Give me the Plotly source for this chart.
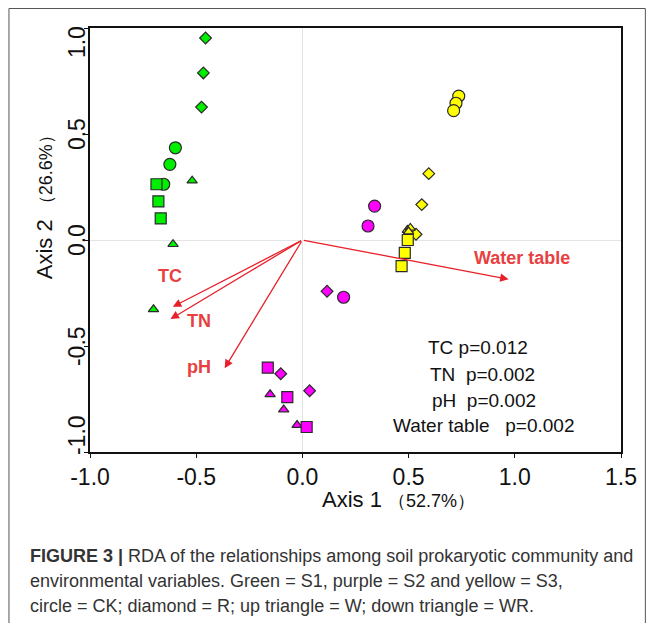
import plotly.graph_objects as go

# ---- data (RDA site scores) ----
green_circle_x = [-0.598, -0.624, -0.653]
green_circle_y = [0.435, 0.357, 0.263]
green_diamond_x = [-0.456, -0.466, -0.475]
green_diamond_y = [0.953, 0.788, 0.627]
green_tri_x = [-0.519, -0.609, -0.701]
green_tri_y = [0.280, -0.020, -0.327]
green_square_x = [-0.687, -0.678, -0.667]
green_square_y = [0.263, 0.182, 0.102]

purple_circle_x = [0.340, 0.309, 0.194]
purple_circle_y = [0.160, 0.066, -0.270]
purple_diamond_x = [0.116, -0.102, 0.034]
purple_diamond_y = [-0.242, -0.631, -0.711]
purple_tri_x = [-0.152, -0.088, -0.025]
purple_tri_y = [-0.728, -0.800, -0.873]
purple_square_x = [-0.163, -0.071, 0.020]
purple_square_y = [-0.602, -0.741, -0.882]

yellow_circle_x = [0.736, 0.723, 0.712]
yellow_circle_y = [0.679, 0.645, 0.610]
yellow_diamond_x = [0.595, 0.562, 0.535]
yellow_diamond_y = [0.313, 0.167, 0.027]
yellow_tri_x = [0.494, 0.508, 0.500]
yellow_tri_y = [0.047, 0.057, 0.040]
yellow_square_x = [0.496, 0.482, 0.467]
yellow_square_y = [0.000, -0.061, -0.123]

# environmental vectors
env_names = ["TC", "TN", "pH", "Water table"]
env_x = [-0.610, -0.621, -0.366, 0.971]
env_y = [-0.315, -0.373, -0.605, -0.185]
env_label_x = [-0.625, -0.488, -0.485, 1.035]
env_label_y = [-0.172, -0.382, -0.597, -0.087]

stats_lines = ["TC p=0.012", "TN  p=0.002", "pH  p=0.002", "Water table   p=0.002"]
stats_x = [0.825, 0.846, 0.855, 0.853]
stats_y = [-0.505, -0.636, -0.755, -0.873]

x_ticks = [-1.0, -0.5, 0.0, 0.5, 1.0, 1.5]
x_ticktext = ["-1.0", "-0.5", "0.0", "0.5", "1.0", "1.5"]
y_ticks = [-1.0, -0.5, 0.0, 0.5, 1.0]
y_ticktext = ["-1.0", "-0.5", "0.0", "0.5", "1.0"]

GREEN = "#00ee00"
PURPLE = "#ff00ff"
YELLOW = "#ffff00"
EDGE = "#2a2a2a"
RED = "#e8202a"
RED_TXT = "#e8403f"
FONT = "Liberation Sans, Arial"

# figure sits inside the page body (8px default margin)
W, H = 641, 615
PL, PR, PT, PB = 82, 25, 20, 171

fig = go.Figure()

groups = [
    (GREEN, green_circle_x, green_circle_y, green_diamond_x, green_diamond_y,
     green_tri_x, green_tri_y, green_square_x, green_square_y),
    (PURPLE, purple_circle_x, purple_circle_y, purple_diamond_x, purple_diamond_y,
     purple_tri_x, purple_tri_y, purple_square_x, purple_square_y),
    (YELLOW, yellow_circle_x, yellow_circle_y, yellow_diamond_x, yellow_diamond_y,
     yellow_tri_x, yellow_tri_y, yellow_square_x, yellow_square_y),
]
for col, cx, cy, dx, dy, tx, ty, sx, sy in groups:
    for xs, ys, sym, size in [(cx, cy, "circle", 12), (dx, dy, "diamond", 9),
                              (tx, ty, "triangle-up", 9), (sx, sy, "square", 11)]:
        fig.add_trace(go.Scatter(
            x=xs, y=ys, mode="markers", showlegend=False,
            marker=dict(symbol=sym, size=size, color=col,
                        line=dict(color=EDGE, width=1.2))))

annotations = []
for i, name in enumerate(env_names):
    annotations.append(dict(
        x=env_x[i], y=env_y[i], ax=0, ay=0, xref="x", yref="y", axref="x", ayref="y",
        text="", showarrow=True, arrowhead=2, arrowsize=1.3, arrowwidth=1.3,
        arrowcolor=RED, standoff=0))
    annotations.append(dict(
        x=env_label_x[i], y=env_label_y[i], xref="x", yref="y", text="<b>%s</b>" % name,
        showarrow=False, font=dict(family=FONT, size=18, color=RED_TXT)))

for i, line in enumerate(stats_lines):
    annotations.append(dict(
        x=stats_x[i], y=stats_y[i], xref="x", yref="y", text=line, showarrow=False,
        font=dict(family=FONT, size=19, color="#111111")))

# y tick labels (end labels pulled inside the axis span, as in the original)
for i, (v, t) in enumerate(zip(y_ticks, y_ticktext)):
    shift = 0
    if i == 0:
        shift = 17
    elif i == len(y_ticks) - 1:
        shift = -14
    annotations.append(dict(
        x=(77 - 90) / 534, y=v, xref="paper", yref="y", text=t, textangle=-90,
        xanchor="center", yanchor="middle", yshift=shift, showarrow=False,
        font=dict(family=FONT, size=23, color="#111111")))

# axis titles
annotations.append(dict(
    x=(400 - 90) / 534, y=(452 - 499) / 424, xref="paper", yref="paper",
    xanchor="center", yanchor="middle",
    text="Axis 1 <span style='font-size:18px'>（52.7%）</span>", showarrow=False,
    font=dict(family=FONT, size=22, color="#111111")))
annotations.append(dict(
    x=(44 - 90) / 534, y=(452 - 203) / 424, xref="paper", yref="paper", textangle=-90,
    xanchor="center", yanchor="middle",
    text="Axis 2 <span style='font-size:18px'>（26.6%）</span>", showarrow=False,
    font=dict(family=FONT, size=22, color="#111111")))

# caption
cap_font = dict(family=FONT, size=18, color="#333333")
cap_lines = [
    "<b>FIGURE 3 |</b> RDA of the relationships among soil prokaryotic community and",
    "environmental variables. Green = S1, purple = S2 and yellow = S3,",
    "circle = CK; diamond = R; up triangle = W; down triangle = WR.",
]
cap_y = [556, 581, 606]
for line, py in zip(cap_lines, cap_y):
    annotations.append(dict(
        x=(28 - 90) / 534, y=(452 - py) / 424, xref="paper", yref="paper",
        xanchor="left", yanchor="middle", text=line, showarrow=False, font=cap_font))

fig.update_layout(
    width=W, height=H,
    margin=dict(l=PL, r=PR, t=PT, b=PB),
    paper_bgcolor="white", plot_bgcolor="white",
    annotations=annotations,
    shapes=[dict(type="rect", xref="paper", yref="paper",
                 x0=(8.5 - 90) / 534, x1=(648.5 - 90) / 534,
                 y0=(452 - 660) / 424, y1=(452 - 8.5) / 424,
                 line=dict(color="#555555", width=1), layer="below")],
    xaxis=dict(range=[-1.0, 1.5], tickvals=x_ticks, ticktext=x_ticktext,
               showgrid=False, zeroline=True, zerolinecolor="#e4e4e4", zerolinewidth=1,
               showline=True, linecolor="#111111", linewidth=1.5, mirror=True,
               ticks="outside", ticklen=4, tickcolor="#111111",
               tickfont=dict(family=FONT, size=23, color="#111111")),
    yaxis=dict(range=[-1.0, 1.0], tickvals=y_ticks, showticklabels=False,
               showgrid=False, zeroline=True, zerolinecolor="#e4e4e4", zerolinewidth=1,
               showline=True, linecolor="#111111", linewidth=1.5, mirror=True,
               ticks="outside", ticklen=4, tickcolor="#111111"),
)

fig.write_html("out.html")
